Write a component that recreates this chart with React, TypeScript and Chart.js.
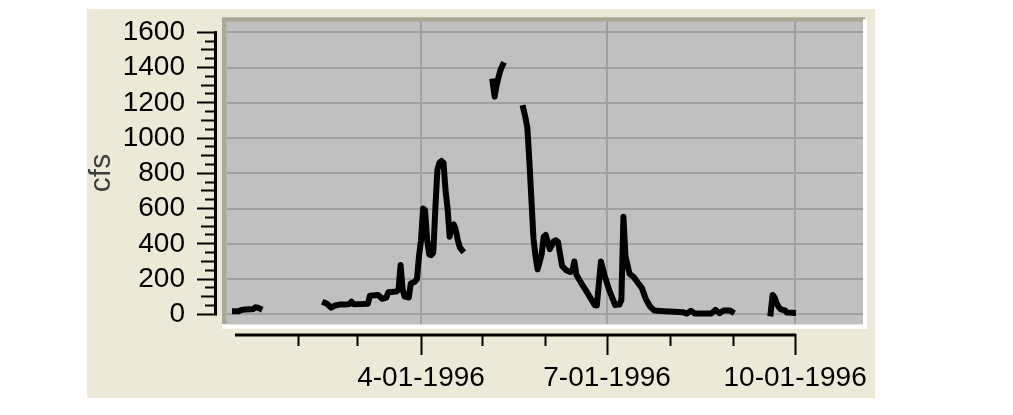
import React, { useEffect, useRef } from 'react';
import { Chart, registerables } from 'chart.js';

Chart.register(...registerables);

// Day offsets counted from 1996-01-01 (day 0); values in cfs.
const SEG1_DAY = [0, 2, 3, 5, 8, 9, 10, 11, 12];
const SEG1_CFS = [18, 18, 25, 27, 28, 30, 40, 38, 33];

const SEG2_DAY = [44, 45, 47, 49, 51, 54, 56, 57, 58, 62, 65, 66, 70, 72, 74, 75, 79, 80, 81, 82, 83, 85, 86, 88, 89, 90, 91, 92, 93, 94, 95, 96, 97, 98, 99, 100, 101, 102, 103, 104, 105, 106, 107, 108, 109, 110, 111];
const SEG2_CFS = [65, 60, 38, 50, 55, 55, 58, 72, 57, 58, 60, 105, 110, 88, 95, 125, 130, 140, 280, 140, 100, 95, 175, 185, 200, 330, 420, 600, 590, 420, 340, 335, 350, 600, 820, 860, 870, 860, 700, 600, 440, 500, 510, 480, 420, 380, 365];

const SEG3_DAY = [126, 127, 128, 129, 130, 131];
const SEG3_CFS = [1320, 1235, 1300, 1350, 1390, 1415];

const SEG4_DAY = [141, 142, 143, 144, 145, 146, 147, 148, 150, 151, 152, 154, 156, 157, 158, 160, 162, 164, 165, 166, 167, 170, 173, 176, 177, 179, 181, 183, 186, 188, 189, 190, 191, 193, 195, 197, 199, 201, 203, 205, 210, 215, 219, 221, 223, 225, 233, 235, 237, 239, 242, 243];
const SEG4_CFS = [1170, 1120, 1060, 870, 650, 430, 330, 255, 340, 440, 450, 370, 415, 420, 410, 275, 250, 240, 245, 300, 225, 165, 110, 52, 50, 300, 212, 139, 52, 55, 80, 553, 330, 230, 212, 180, 150, 85, 45, 22, 18, 15, 12, 4, 20, 4, 4, 25, 6, 22, 22, 15];

const SEG5_DAY = [262, 263, 264, 265, 266, 267, 269, 270, 273];
const SEG5_CFS = [5, 110, 95, 62, 40, 28, 22, 10, 8];

const Y_MAJOR_TICKS = [0, 200, 400, 600, 800, 1000, 1200, 1400, 1600];
const Y_LABELS = ['0', '200', '400', '600', '800', '1000', '1200', '1400', '1600'];
const Y_SUBDIVISIONS = 4; // ticks every 50 cfs

const MONTH_TICK_DAYS = [31, 60, 91, 121, 152, 182, 213, 244, 274];
const X_LABEL_DAYS = [91, 182, 274];
const X_LABELS = ['4-01-1996', '7-01-1996', '10-01-1996'];
const AXIS_START_DAY = 0;

const AXIS_TITLE = 'cfs';

const FONT = { family: "'Liberation Sans', Arial, sans-serif", size: 28 };
const GRID = '#a0a0a4';

const yMinorTicks: number[] = [];
Y_MAJOR_TICKS.forEach((v, i) => {
  yMinorTicks.push(v);
  if (i < Y_MAJOR_TICKS.length - 1) {
    const step = (Y_MAJOR_TICKS[i + 1] - v) / Y_SUBDIVISIONS;
    for (let k = 1; k < Y_SUBDIVISIONS; k++) yMinorTicks.push(v + step * k);
  }
});

const framePlugin = {
  id: 'framePanel',
  beforeDraw(chart: any) {
    const { ctx, chartArea: a } = chart;
    ctx.save();
    ctx.fillStyle = '#aca899';
    ctx.fillRect(a.left - 4.5, a.top - 4.4, a.right + 2 - (a.left - 4.5), a.bottom - (a.top - 4.4));
    ctx.fillStyle = '#ffffff';
    ctx.fillRect(a.right, a.top - 2.5, 4, a.bottom + 4.5 - (a.top - 2.5));
    ctx.fillRect(a.left - 4.5, a.bottom, a.right + 4 - (a.left - 4.5), 4.5);
    ctx.fillStyle = '#c0c0c0';
    ctx.fillRect(a.left, a.top, a.right - a.left, a.bottom - a.top);
    ctx.restore();
  },
  afterDraw(chart: any) {
    const { ctx } = chart;
    const yAx = chart.scales.yAxis;
    const xAx = chart.scales.xAxis;
    ctx.save();
    ctx.strokeStyle = '#000';
    ctx.lineWidth = 3;
    ctx.beginPath();
    const lx = yAx.right - 1.5;
    ctx.moveTo(lx, yAx.getPixelForValue(Y_MAJOR_TICKS[Y_MAJOR_TICKS.length - 1]) - 1);
    ctx.lineTo(lx, yAx.getPixelForValue(Y_MAJOR_TICKS[0]) + 1);
    const ly = xAx.top + 1;
    ctx.moveTo(xAx.getPixelForValue(AXIS_START_DAY), ly);
    ctx.lineTo(xAx.getPixelForValue(MONTH_TICK_DAYS[MONTH_TICK_DAYS.length - 1]) + 1, ly);
    ctx.stroke();
    ctx.restore();
  },
};

const X_MIN = -4.16;
const X_MAX = 307.2;
const Y_MIN = -56.7;
const Y_MAX = 1660.2;

export default function App() {
  const ref = useRef<HTMLCanvasElement>(null);

  useEffect(() => {
    document.body.style.margin = '0';
    const segments: [number[], number[]][] = [
      [SEG1_DAY, SEG1_CFS],
      [SEG2_DAY, SEG2_CFS],
      [SEG3_DAY, SEG3_CFS],
      [SEG4_DAY, SEG4_CFS],
      [SEG5_DAY, SEG5_CFS],
    ];
    const chart = new Chart(ref.current as HTMLCanvasElement, {
      type: 'line',
      data: {
        datasets: segments.map(([d, v]) => ({
          data: d.map((x, i) => ({ x, y: v[i] })),
          borderColor: '#000',
          borderWidth: 6,
          pointRadius: 0,
          borderJoinStyle: 'round',
          borderCapStyle: 'square',
          tension: 0,
          fill: false,
          xAxisID: 'x',
          yAxisID: 'y',
        })),
      } as any,
      options: {
        responsive: false,
        maintainAspectRatio: false,
        devicePixelRatio: 1,
        animation: false,
        layout: { padding: { left: 0, top: 21.7, right: 150, bottom: 21 } },
        plugins: { legend: { display: false }, tooltip: { enabled: false } },
        scales: {
          x: {
            type: 'linear',
            position: 'bottom',
            weight: 0,
            min: X_MIN,
            max: X_MAX,
            afterBuildTicks: (s: any) => { s.ticks = X_LABEL_DAYS.map((v) => ({ value: v })); },
            afterFit: (s: any) => { s.height = 9.7; s.paddingLeft = 0; s.paddingRight = 0; },
            ticks: { display: false },
            border: { display: false },
            grid: { color: GRID, lineWidth: 2, drawTicks: false },
          },
          xAxis: {
            type: 'linear',
            position: 'bottom',
            weight: 1,
            min: X_MIN,
            max: X_MAX,
            afterBuildTicks: (s: any) => { s.ticks = MONTH_TICK_DAYS.map((v) => ({ value: v })); },
            afterFit: (s: any) => { s.height = 60; s.paddingLeft = 0; s.paddingRight = 0; },
            ticks: {
              autoSkip: false,
              maxRotation: 0,
              minRotation: 0,
              padding: 6,
              color: '#000',
              font: FONT,
              callback: (v: any) => {
                const i = X_LABEL_DAYS.indexOf(Number(v));
                return i >= 0 ? X_LABELS[i] : '';
              },
            },
            border: { display: false },
            grid: {
              drawOnChartArea: false,
              drawTicks: true,
              tickLength: 21,
              tickWidth: 2,
              tickColor: '#000',
              tickBorderDash: (c: any) => (c.tick && X_LABEL_DAYS.includes(c.tick.value) ? [] : [12, 100]),
            },
          },
          y: {
            type: 'linear',
            position: 'left',
            weight: 0,
            min: Y_MIN,
            max: Y_MAX,
            afterBuildTicks: (s: any) => { s.ticks = Y_MAJOR_TICKS.map((v) => ({ value: v })); },
            afterFit: (s: any) => { s.width = 9.5; s.paddingTop = 0; s.paddingBottom = 0; },
            ticks: { display: false },
            border: { display: false },
            grid: { color: GRID, lineWidth: 2, drawTicks: false },
          },
          yAxis: {
            type: 'linear',
            position: 'left',
            weight: 1,
            min: Y_MIN,
            max: Y_MAX,
            afterBuildTicks: (s: any) => { s.ticks = yMinorTicks.map((v) => ({ value: v })); },
            afterFit: (s: any) => { s.width = 217; s.paddingTop = 0; s.paddingBottom = 0; },
            title: {
              display: true,
              text: AXIS_TITLE,
              color: '#3c3c3c',
              font: { family: "'Liberation Sans', Arial, sans-serif", size: 30 },
              padding: { top: 84, bottom: 0 },
            },
            ticks: {
              autoSkip: false,
              padding: 12,
              color: '#000',
              font: FONT,
              callback: (v: any) => {
                const i = Y_MAJOR_TICKS.indexOf(Number(v));
                return i >= 0 ? Y_LABELS[i] : '';
              },
            },
            border: { display: false },
            grid: {
              drawOnChartArea: false,
              drawTicks: true,
              tickLength: 20,
              tickWidth: 2,
              tickColor: '#000',
              tickBorderDash: (c: any) => {
                const v = c.tick ? c.tick.value : 0;
                if (v % 200 === 0) return [];
                if (v % 100 === 0) return [0, 4, 16, 100];
                return [0, 8, 12, 100];
              },
            },
          },
        },
      } as any,
      plugins: [framePlugin],
    });
    return () => chart.destroy();
  }, []);

  return (
    <div style={{ position: 'fixed', left: 0, top: 0, width: 1013, height: 415, background: '#ffffff', overflow: 'hidden' }}>
      <div style={{ position: 'absolute', left: 87, top: 9, width: 788, height: 389, background: '#ece9d8' }} />
      <canvas ref={ref} width={1013} height={415} style={{ position: 'absolute', left: 0, top: 0, width: 1013, height: 415 }} />
    </div>
  );
}
